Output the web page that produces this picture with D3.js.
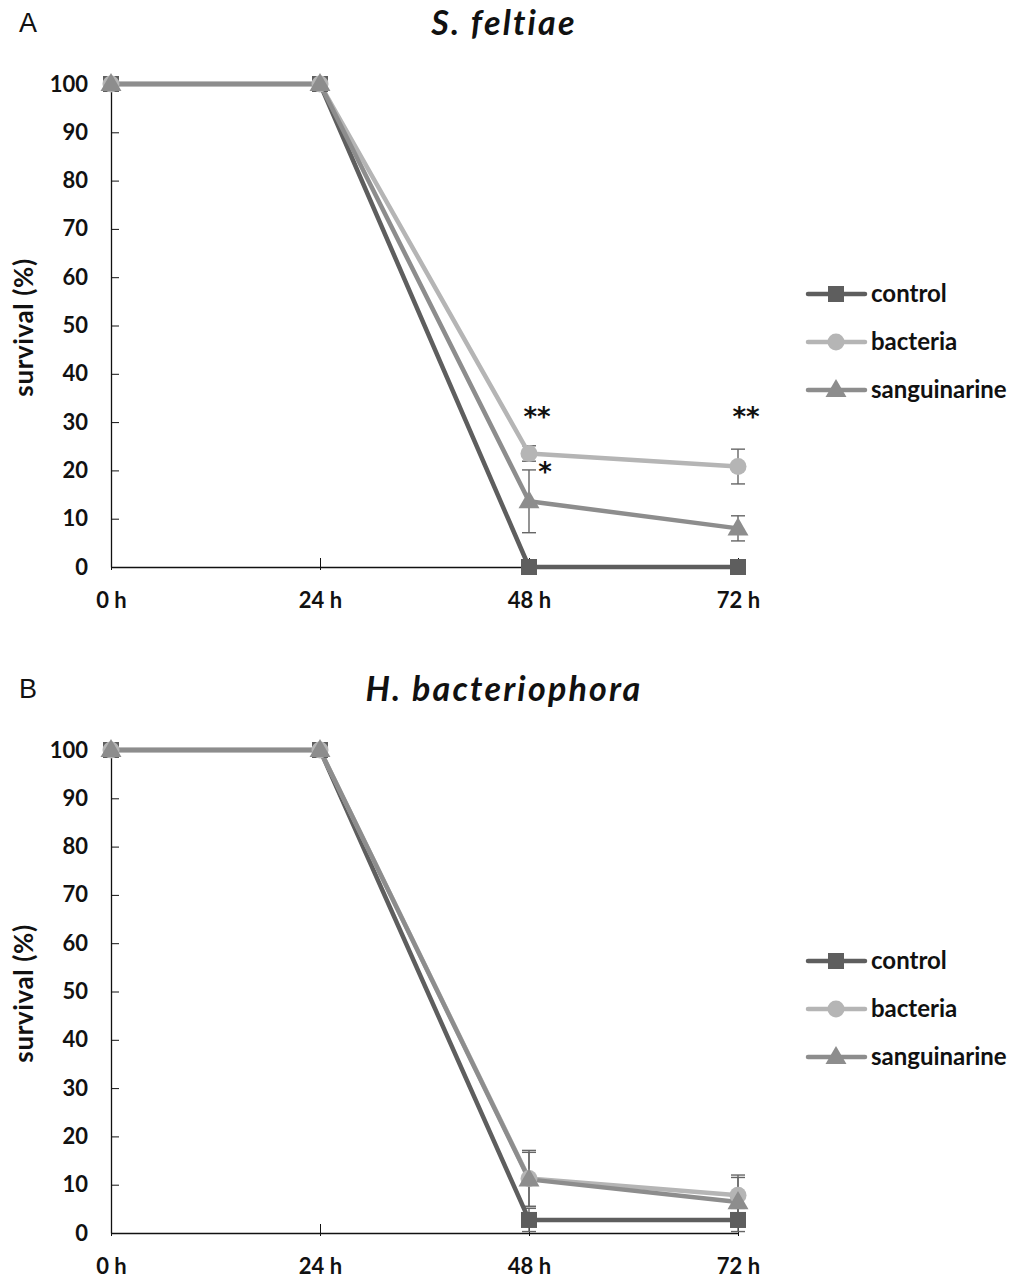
<!DOCTYPE html>
<html>
<head>
<meta charset="utf-8">
<script src="https://cdn.jsdelivr.net/npm/d3@7"></script>
<style>
  body { margin: 0; background: #fff; }
  svg { display: block; }
</style>
</head>
<body>
<svg id="chart" width="1021" height="1279"></svg>
<script>
// Time points and y ticks
const timePoints = ["0 h", "24 h", "48 h", "72 h"];
const yTicks = [0, 10, 20, 30, 40, 50, 60, 70, 80, 90, 100];
const seriesNames = ["control", "bacteria", "sanguinarine"];

// Panel A: S. feltiae survival (%) and standard errors
const feltiaeControl = [100, 100, 0, 0];
const feltiaeBacteria = [100, 100, 23.5, 20.8];
const feltiaeSanguinarine = [100, 100, 13.6, 8.0];
const feltiaeControlErr = [0, 0, 0, 0];
const feltiaeBacteriaErr = [0, 0, 1.6, 3.6];
const feltiaeSanguinarineErr = [0, 0, 6.5, 2.6];
// significance marks: bacteria vs control, sanguinarine vs control
const bacteriaStars = [null, null, "**", "**"];
const sanguinarineStars = [null, null, "*", null];

// Panel B: H. bacteriophora survival (%) and standard errors
const bacteriophoraControl = [100, 100, 2.7, 2.7];
const bacteriophoraBacteria = [100, 100, 11.3, 7.8];
const bacteriophoraSanguinarine = [100, 100, 11.1, 6.4];
const bacteriophoraControlErr = [0, 0, 2.4, 2.4];
const bacteriophoraBacteriaErr = [0, 0, 5.8, 4.2];
const bacteriophoraSanguinarineErr = [0, 0, 5.6, 5.1];

const colors = { control: "#5e5e5e", bacteria: "#b5b5b5", sanguinarine: "#8d8d8d" };
const font = "Lato, 'Open Sans', sans-serif";

const svg = d3.select("#chart");

function drawPanel(cfg) {
  const g = svg.append("g");
  const x = d3.scalePoint().domain(timePoints).range([111, 738]);
  const y = d3.scaleLinear().domain([0, 100]).range([cfg.bottom, cfg.bottom - 483]);

  // panel letter
  g.append("text").attr("x", 19).attr("y", cfg.bottom - 535)
    .attr("font-family", "'Liberation Sans', Arial, sans-serif")
    .attr("font-size", 27).attr("fill", "#111").text(cfg.letter);

  // title
  g.append("text").attr("x", 504).attr("y", cfg.bottom - 532)
    .attr("text-anchor", "middle")
    .attr("font-family", font).attr("font-size", 34)
    .attr("font-weight", "bold").attr("font-style", "italic")
    .attr("letter-spacing", 2.2)
    .attr("fill", "#111").text(cfg.title);

  // y axis
  const yAxis = d3.axisLeft(y).tickValues(yTicks).tickSize(0);
  const ya = g.append("g").attr("transform", `translate(111,0)`).call(yAxis);
  ya.select(".domain").attr("stroke", "#111").attr("stroke-width", 1.3);
  ya.selectAll(".tick line").attr("stroke", "#111").attr("stroke-width", 1).attr("x2", 8);
  ya.selectAll("text").attr("x", -23).attr("font-family", font).attr("font-size", 22)
    .attr("font-weight", "bold").attr("fill", "#111");

  // x axis
  const xAxis = d3.axisBottom(x).tickSizeInner(0).tickSizeOuter(0);
  const xa = g.append("g").attr("transform", `translate(0,${cfg.bottom})`).call(xAxis);
  xa.select(".domain").attr("stroke", "#111").attr("stroke-width", 1.3);
  xa.selectAll(".tick line").attr("stroke", "#111").attr("y1", -9).attr("y2", 3);
  xa.selectAll("text").attr("y", 41).attr("dy", 0)
    .attr("font-family", font).attr("font-size", 22)
    .attr("font-weight", "bold").attr("fill", "#111");

  // y axis title
  g.append("text")
    .attr("transform", `translate(33,${y(50) + 2}) rotate(-90)`)
    .attr("text-anchor", "middle")
    .attr("font-family", font).attr("font-size", 26).attr("font-weight", "bold")
    .attr("letter-spacing", 0.6)
    .attr("fill", "#111").text("survival (%)");

  const line = d3.line().x((d, i) => x(timePoints[i])).y(d => y(d));

  // error bars
  cfg.series.forEach(s => {
    s.values.forEach((v, i) => {
      const e = s.err[i];
      if (!e) return;
      const cx = x(timePoints[i]);
      const eg = g.append("g").attr("stroke", "#666").attr("stroke-width", 1.4);
      eg.append("line").attr("x1", cx).attr("x2", cx).attr("y1", y(v + e)).attr("y2", y(v - e));
      eg.append("line").attr("x1", cx - 7).attr("x2", cx + 7).attr("y1", y(v + e)).attr("y2", y(v + e));
      eg.append("line").attr("x1", cx - 7).attr("x2", cx + 7).attr("y1", y(v - e)).attr("y2", y(v - e));
    });
  });

  // lines and markers
  cfg.series.forEach(s => {
    g.append("path").datum(s.values).attr("d", line)
      .attr("fill", "none").attr("stroke", colors[s.name]).attr("stroke-width", 4.5)
      .attr("stroke-linejoin", "round");
  });
  cfg.series.forEach(s => {
    s.values.forEach((v, i) => drawMarker(g, s.name, x(timePoints[i]), y(v), 1));
  });

  // significance marks
  if (cfg.stars) {
    cfg.stars.forEach(st => {
      st.marks.forEach((m, i) => {
        if (!m) return;
        g.append("text").attr("x", x(timePoints[i]) + st.dx).attr("y", y(st.level[i]) + st.dy)
          .attr("text-anchor", "middle")
          .attr("font-family", "'DejaVu Sans', sans-serif").attr("font-size", 26)
          .attr("font-weight", "bold").attr("fill", "#111").text(m);
      });
    });
  }

  // legend
  seriesNames.forEach((name, k) => {
    const ly = cfg.legendY + k * 48;
    g.append("line").attr("x1", 808).attr("x2", 865).attr("y1", ly).attr("y2", ly)
      .attr("stroke", colors[name]).attr("stroke-width", 4.5).attr("stroke-linecap", "round");
    drawMarker(g, name, 836, ly, 1);
    g.append("text").attr("x", 871).attr("y", ly + 8)
      .attr("font-family", font).attr("font-size", 24).attr("font-weight", "bold")
      .attr("fill", "#111").text(name);
  });
}

function drawMarker(g, name, cx, cy, s) {
  const c = colors[name];
  if (name === "control") {
    g.append("rect").attr("x", cx - 8 * s).attr("y", cy - 8 * s)
      .attr("width", 16 * s).attr("height", 16 * s).attr("fill", c);
  } else if (name === "bacteria") {
    g.append("circle").attr("cx", cx).attr("cy", cy).attr("r", 8.5 * s).attr("fill", c);
  } else {
    g.append("path")
      .attr("d", d3.symbol().type(d3.symbolTriangle).size(190 * s * s)())
      .attr("transform", `translate(${cx},${cy + 1})`).attr("fill", c);
  }
}

drawPanel({
  letter: "A", title: "S. feltiae", bottom: 567, legendY: 294,
  series: [
    { name: "control", values: feltiaeControl, err: feltiaeControlErr },
    { name: "bacteria", values: feltiaeBacteria, err: feltiaeBacteriaErr },
    { name: "sanguinarine", values: feltiaeSanguinarine, err: feltiaeSanguinarineErr }
  ],
  stars: [
    { marks: bacteriaStars, level: [30, 30, 30, 30], dx: 8, dy: 4 },
    { marks: sanguinarineStars, level: feltiaeSanguinarine, dx: 16, dy: -20 }
  ]
});

drawPanel({
  letter: "B", title: "H. bacteriophora", bottom: 1233, legendY: 961,
  series: [
    { name: "control", values: bacteriophoraControl, err: bacteriophoraControlErr },
    { name: "bacteria", values: bacteriophoraBacteria, err: bacteriophoraBacteriaErr },
    { name: "sanguinarine", values: bacteriophoraSanguinarine, err: bacteriophoraSanguinarineErr }
  ]
});
</script>
</body>
</html>
